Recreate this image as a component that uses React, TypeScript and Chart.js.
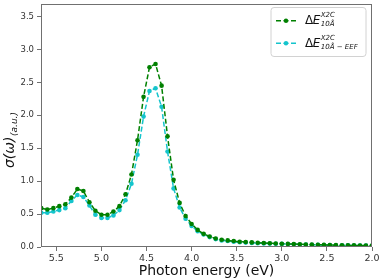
import React, { useEffect, useRef } from "react";
import { Chart, registerables } from "chart.js";

Chart.register(...registerables);

const energies = [
  5.667, 5.6, 5.533, 5.467, 5.4, 5.333, 5.267, 5.2, 5.133, 5.067,
  5.0, 4.933, 4.867, 4.8, 4.733, 4.667, 4.6, 4.533, 4.467, 4.4,
  4.333, 4.267, 4.2, 4.133, 4.067, 4.0, 3.933, 3.867, 3.8, 3.733,
  3.667, 3.6, 3.533, 3.467, 3.4, 3.333, 3.267, 3.2, 3.133, 3.067,
  3.0, 2.933, 2.867, 2.8, 2.733, 2.667, 2.6, 2.533, 2.467, 2.4,
  2.333, 2.267, 2.2, 2.133, 2.067, 2.0,
];

const sigmaX2C = [
  0.59, 0.57, 0.59, 0.62, 0.65, 0.75, 0.88, 0.85, 0.68, 0.55,
  0.49, 0.49, 0.54, 0.62, 0.8, 1.1, 1.62, 2.28, 2.73, 2.78,
  2.45, 1.68, 1.02, 0.67, 0.47, 0.35, 0.26, 0.2, 0.16, 0.13,
  0.11, 0.1, 0.09, 0.08, 0.075, 0.07, 0.065, 0.06, 0.057, 0.054,
  0.05, 0.047, 0.044, 0.041, 0.038, 0.036, 0.034, 0.032, 0.03, 0.028,
  0.027, 0.025, 0.024, 0.023, 0.022, 0.021,
];

const sigmaEEF = [
  0.52, 0.52, 0.54, 0.56, 0.59, 0.7, 0.79, 0.76, 0.63, 0.49,
  0.44, 0.44, 0.48, 0.56, 0.71, 0.96, 1.4, 1.98, 2.37, 2.41,
  2.13, 1.45, 0.89, 0.6, 0.43, 0.32, 0.24, 0.19, 0.15, 0.12,
  0.1, 0.09, 0.08, 0.072, 0.067, 0.062, 0.058, 0.055, 0.052, 0.05,
  0.047, 0.044, 0.041, 0.038, 0.036, 0.034, 0.032, 0.03, 0.028, 0.027,
  0.025, 0.024, 0.023, 0.022, 0.021, 0.02,
];

const xTickValues = [5.5, 5.0, 4.5, 4.0, 3.5, 3.0, 2.5, 2.0];
const yTickValues = [0.0, 0.5, 1.0, 1.5, 2.0, 2.5, 3.0, 3.5];

const seriesColors = ["#008000", "#14c4cc"];
const legendSubs = ["10Å", "10Å − EEF"];
const legendSup = "X2C";
const xTitle = "Photon energy (eV)";
const yMain = "σ(ω)";
const ySub = "(a.u.)";

const FONT = "'DejaVu Sans', sans-serif";
const SPINE = "#707070";

const decorPlugin = {
  id: "decor",
  afterDraw(chart: any) {
    const { ctx, chartArea } = chart;
    const { left, right, top, bottom } = chartArea;
    ctx.save();
    // frame
    ctx.strokeStyle = SPINE;
    ctx.lineWidth = 1;
    ctx.setLineDash([]);
    ctx.strokeRect(left + 0.5, top + 0.5, right - left - 1, bottom - top - 1);

    // legend
    const bx = 271, by = 7.5, bw = 95, bh = 49;
    ctx.beginPath();
    (ctx as any).roundRect(bx, by, bw, bh, 3);
    ctx.fillStyle = "rgba(255,255,255,0.85)";
    ctx.fill();
    ctx.strokeStyle = "#d2d2d2";
    ctx.lineWidth = 1;
    ctx.stroke();
    for (let i = 0; i < legendSubs.length; i++) {
      const y = by + 13.2 + i * 22.6;
      const c = seriesColors[i];
      ctx.strokeStyle = c;
      ctx.lineWidth = 1.5;
      ctx.setLineDash([5, 2.5]);
      ctx.beginPath();
      ctx.moveTo(276, y);
      ctx.lineTo(296, y);
      ctx.stroke();
      ctx.setLineDash([]);
      ctx.fillStyle = c;
      ctx.beginPath();
      ctx.arc(286, y, 2.2, 0, Math.PI * 2);
      ctx.fill();

      ctx.fillStyle = "#111";
      ctx.textBaseline = "alphabetic";
      ctx.textAlign = "left";
      const x0 = 305;
      ctx.font = `12px ${FONT}`;
      ctx.fillText("Δ", x0, y + 3.5);
      const w1 = ctx.measureText("Δ").width;
      ctx.font = `italic 12px ${FONT}`;
      ctx.fillText("E", x0 + w1 - 0.5, y + 3.5);
      const w2 = ctx.measureText("E").width;
      const sx = x0 + w1 + w2;
      ctx.font = `italic 7px ${FONT}`;
      ctx.fillText(legendSup, sx, y - 3.5);
      ctx.fillText(legendSubs[i], sx, y + 5.5);
    }

    // y-axis title
    ctx.save();
    ctx.translate(14, 168);
    ctx.rotate(-Math.PI / 2);
    ctx.fillStyle = "#111";
    ctx.textAlign = "left";
    ctx.textBaseline = "alphabetic";
    ctx.font = `italic 14px ${FONT}`;
    ctx.fillText(yMain, 0, 0);
    const wm = ctx.measureText(yMain).width;
    ctx.font = `italic 9px ${FONT}`;
    ctx.fillText(ySub, wm + 0.5, 3);
    ctx.restore();

    ctx.restore();
  },
};

export default function App() {
  const ref = useRef<HTMLCanvasElement | null>(null);
  useEffect(() => {
    if (!ref.current) return;
    const mk = (vals: number[], color: string, label: string) => ({
      label,
      data: energies.map((x, i) => ({ x, y: vals[i] })),
      borderColor: color,
      backgroundColor: color,
      borderWidth: 1.5,
      borderDash: [5, 2.5],
      pointRadius: 2.3,
      pointBorderWidth: 0,
      pointBackgroundColor: color,
      pointStyle: "circle",
      tension: 0,
      fill: false,
    });
    const chart = new Chart(ref.current, {
      type: "line",
      data: {
        datasets: [
          mk(sigmaX2C, seriesColors[0], "ΔE X2C 10Å"),
          mk(sigmaEEF, seriesColors[1], "ΔE X2C 10Å − EEF"),
        ],
      },
      options: {
        responsive: false,
        animation: false,
        layout: { padding: { top: 2, right: 7, left: 0, bottom: 0 } },
        plugins: {
          legend: { display: false },
          tooltip: { enabled: false },
        },
        scales: {
          x: {
            type: "linear",
            reverse: true,
            min: 2.0,
            max: 5.67,
            afterBuildTicks: (s: any) => {
              s.ticks = xTickValues.map((v) => ({ value: v }));
            },
            afterFit: (s: any) => {
              s.height = 33;
              s.paddingLeft = 0;
              s.paddingRight = 0;
            },
            ticks: {
              autoSkip: false,
              maxRotation: 0,
              color: "#333",
              font: { family: FONT, size: 9.5 },
              padding: 2,
              callback: (v: any) => Number(v).toFixed(1),
            },
            grid: {
              drawOnChartArea: false,
              drawTicks: true,
              tickLength: 4,
              tickColor: SPINE,
            },
            border: { display: false },
            title: {
              display: true,
              text: xTitle,
              color: "#111",
              font: { family: FONT, size: 14 },
              padding: { top: 0, bottom: 0 },
            },
          },
          y: {
            min: 0,
            max: 3.69,
            afterBuildTicks: (s: any) => {
              s.ticks = yTickValues.map((v) => ({ value: v }));
            },
            afterFit: (s: any) => {
              s.width = 41;
              s.paddingTop = 0;
              s.paddingBottom = 0;
            },
            ticks: {
              color: "#333",
              font: { family: FONT, size: 8.5 },
              padding: 3,
              callback: (v: any) => Number(v).toFixed(1),
            },
            grid: {
              drawOnChartArea: false,
              drawTicks: true,
              tickLength: 4,
              tickColor: SPINE,
            },
            border: { display: false },
          },
        },
      },
      plugins: [decorPlugin],
    } as any);
    return () => chart.destroy();
  }, []);
  return (
    <div style={{ position: "fixed", left: 0, top: 0, width: 379, height: 280, background: "#fff" }}>
      <canvas ref={ref} width={379} height={280} style={{ display: "block" }} />
    </div>
  );
}
